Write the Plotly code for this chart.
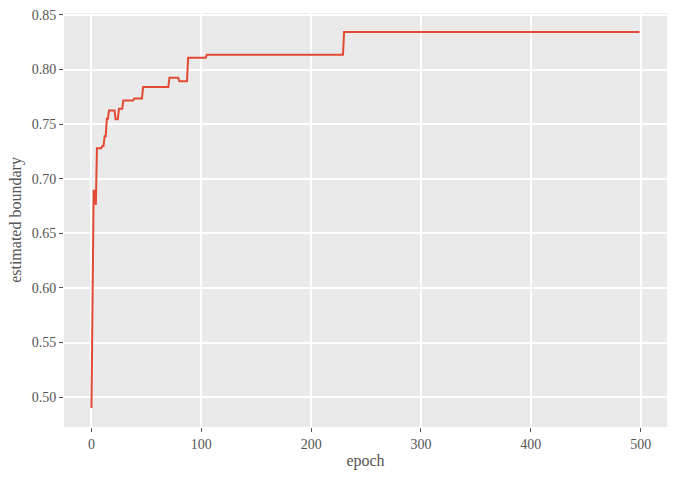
import plotly.graph_objects as go

# epochs where the estimate changes (each step given by its last/first epoch)
epochs = [0, 1, 2, 3, 4, 5, 9, 10, 11, 12, 13, 14, 15, 16, 21, 22, 24, 25, 28, 29,
          38, 39, 46, 47, 70, 71, 79, 80, 87, 88, 104, 105, 229, 230, 499]
boundary = [0.490, 0.600, 0.689, 0.689, 0.676, 0.728, 0.728, 0.730, 0.730, 0.739,
            0.739, 0.755, 0.755, 0.7625, 0.7625, 0.7545, 0.7545, 0.7642, 0.7642, 0.7717,
            0.7717, 0.7736, 0.7736, 0.7840, 0.7840, 0.7926, 0.7926, 0.7893, 0.7893, 0.8109,
            0.8109, 0.8135, 0.8135, 0.8345, 0.8345]

x_ticks = [0, 100, 200, 300, 400, 500]
y_ticks = [0.50, 0.55, 0.60, 0.65, 0.70, 0.75, 0.80, 0.85]

fig = go.Figure()
fig.add_trace(go.Scatter(
    x=epochs,
    y=boundary,
    mode='lines',
    line=dict(color='#E24A33', width=2),
    showlegend=False,
))

axis_style = dict(
    showgrid=True,
    gridcolor='white',
    gridwidth=1.6,
    zeroline=False,
    showline=False,
    automargin=False,
    ticks='outside',
    ticklen=4,
    tickwidth=1,
    tickcolor='#555555',
    tickfont=dict(family='Liberation Serif', size=14, color='#555555'),
)

fig.update_layout(
    width=677,
    height=479,
    margin=dict(l=64, r=10, t=13, b=52),
    paper_bgcolor='white',
    plot_bgcolor='#EAEAEA',
    font=dict(family='Liberation Serif', color='#555555'),
    xaxis=dict(
        range=[-25, 524],
        tickvals=x_ticks,
        ticktext=[str(t) for t in x_ticks],
        title=dict(text='epoch', font=dict(size=16, color='#555555'), standoff=4),
        **axis_style,
    ),
    yaxis=dict(
        range=[0.4727, 0.8518],
        tickvals=y_ticks,
        ticktext=['%.2f' % t for t in y_ticks],
        title=dict(text='estimated boundary', font=dict(size=16, color='#555555'), standoff=6),
        **axis_style,
    ),
)

# drop the page's default body margin so the figure sits at the window corner
fig.write_html("out.html", config={'displayModeBar': False},
               post_script="document.body.style.margin = '0';")
